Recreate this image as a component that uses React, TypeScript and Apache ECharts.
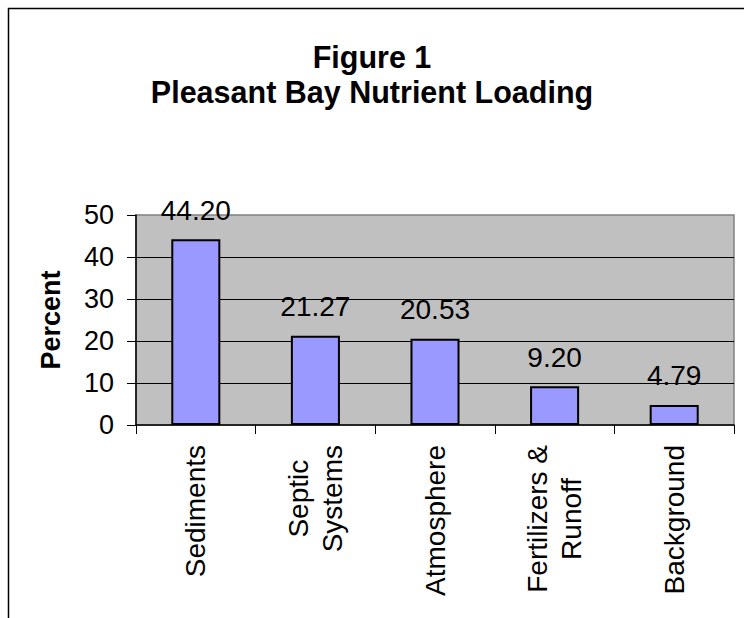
import React, { useEffect, useRef } from "react";
import * as echarts from "echarts";

const categories = ["Sediments", "Septic\nSystems", "Atmosphere", "Fertilizers &\nRunoff", "Background"];
const percentValues = [44.2, 21.27, 20.53, 9.2, 4.79];
const yTicks = { min: 0, max: 50, interval: 10 };
const titleLines = ["Figure 1", "Pleasant Bay Nutrient Loading"];
const yAxisName = "Percent";

const FONT = '"Liberation Sans", Arial, Helvetica, sans-serif';

export default function App() {
  const ref = useRef<HTMLDivElement>(null);
  useEffect(() => {
    if (!ref.current) return;
    const chart = echarts.init(ref.current, null, { renderer: "svg" });
    chart.setOption({
      animation: false,
      backgroundColor: "#ffffff",
      textStyle: { fontFamily: FONT },
      title: {
        text: titleLines.join("\n"),
        left: "center",
        top: 34,
        textStyle: {
          fontFamily: FONT,
          fontSize: 30.5,
          fontWeight: "bold",
          color: "#000",
          lineHeight: 35,
        },
      },
      graphic: [
        {
          type: "rect",
          shape: { x: 8.5, y: 8.5, width: 900, height: 800 },
          style: { fill: "none", stroke: "#000", lineWidth: 1.5 },
          silent: true,
          z: 100,
        },
      ],
      grid: {
        left: 136,
        right: 10,
        top: 215,
        bottom: 193,
        show: true,
        backgroundColor: "#C0C0C0",
        borderColor: "#808080",
        borderWidth: 1.5,
      },
      xAxis: {
        type: "category",
        data: categories,
        axisLine: { show: true, lineStyle: { color: "#000", width: 1.5 } },
        axisTick: { show: true, alignWithLabel: false, length: 9, lineStyle: { color: "#000", width: 1 } },
        axisLabel: {
          rotate: 90,
          margin: 20,
          interval: 0,
          color: "#000",
          fontFamily: FONT,
          fontSize: 28,
          formatter: (v: string) =>
            v
              .split("\n")
              .map((l) => `{c|${l}}`)
              .join("\n"),
          rich: {
            c: { align: "center", fontFamily: FONT, fontSize: 28, color: "#000", lineHeight: 34 },
          },
        },
        splitLine: { show: false },
      },
      yAxis: {
        type: "value",
        min: yTicks.min,
        max: yTicks.max,
        interval: yTicks.interval,
        name: yAxisName,
        nameLocation: "middle",
        nameRotate: 90,
        nameGap: 72,
        nameTextStyle: { fontFamily: FONT, fontSize: 27, fontWeight: "bold", color: "#000" },
        axisLine: { show: true, lineStyle: { color: "#000", width: 1.5 } },
        axisTick: { show: true, inside: false, length: 9, lineStyle: { color: "#000", width: 1 } },
        axisLabel: { margin: 22, color: "#000", fontFamily: FONT, fontSize: 27 },
        splitLine: { show: true, showMaxLine: false, showMinLine: false, lineStyle: { color: "#000", width: 1 } },
      },
      series: [
        {
          type: "bar",
          data: percentValues,
          barWidth: "41%",
          itemStyle: { color: "#9999FF", borderColor: "#000", borderWidth: 2 },
          label: {
            show: true,
            position: "top",
            distance: 15,
            color: "#000",
            fontFamily: FONT,
            fontSize: 28,
            formatter: (p: any) => Number(p.value).toFixed(2),
          },
        },
      ],
    });
    return () => chart.dispose();
  }, []);
  return (
    <div
      ref={ref}
      style={{ position: "absolute", left: 0, top: 0, width: 744, height: 618 }}
    />
  );
}
